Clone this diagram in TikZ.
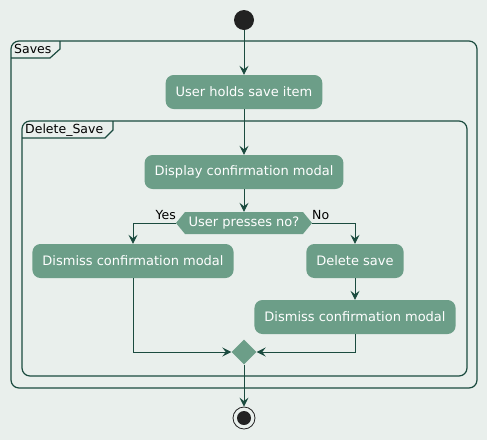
\documentclass[tikz,border=0pt]{standalone}
\usepackage{fontspec}
\setmainfont{DejaVu Sans}
\usetikzlibrary{arrows.meta,shapes.geometric}
\definecolor{bgc}{HTML}{E9EFEC}
\definecolor{nodefill}{HTML}{6C9E88}
\definecolor{linec}{HTML}{1B4B3F}
\definecolor{dotc}{HTML}{222222}
\tikzset{
  act/.style={fill=nodefill, rounded corners=8pt, text=white, font=\fontsize{13}{15}\selectfont,
    minimum height=34pt, inner xsep=10pt, inner ysep=0pt},
  conn/.style={draw=linec, line width=0.9pt, -{Stealth[length=9pt,width=9pt,inset=3.5pt]}},
  frameline/.style={draw=linec, line width=1.2pt},
  lbl/.style={font=\fontsize{12.5}{14}\selectfont, text=black, inner sep=0pt},
}
\begin{document}
\begin{tikzpicture}[x=1pt,y=-1pt]
\fill[bgc] (0,0) rectangle (487,440);
\useasboundingbox (0,0) rectangle (487,440);
% frames
\draw[frameline, rounded corners=8pt] (11,41) rectangle (477,388);
\draw[frameline] (11,58) -- (50,58) -- (60,49) -- (60,41);
\node[lbl, anchor=base west] (savesl) at (14,53) {Saves};
\draw[frameline, rounded corners=8pt] (22,121) rectangle (467,376);
\draw[frameline] (22,138) -- (105,138) -- (113,130) -- (113,121);
\node[lbl, anchor=base west] (dell) at (25,133) {Delete\_Save};
% start
\node[circle, fill=dotc, minimum size=20pt, inner sep=0] (start) at (244,20) {};
% nodes
\node[act] (hold) at (244,92) {User holds save item};
\node[act] (disp) at (244,172) {Display confirmation modal};
\fill[nodefill] (185,212) -- (303,212) -- (312,223) -- (303,234) -- (185,234) -- (176,223) -- cycle;
\node[inner sep=0, minimum width=136pt, minimum height=22pt, text=white, font=\fontsize{13}{15}\selectfont] (dec) at (244,223) {User presses no?};
\node[act] (dis1) at (133,261) {Dismiss confirmation modal};
\node[act] (dels) at (355,261) {Delete save};
\node[act] (dis2) at (355,317) {Dismiss confirmation modal};
\node[diamond, fill=nodefill, minimum size=25pt, inner sep=0] (merge) at (244,352) {};
\node[circle, draw=dotc, line width=0.8pt, fill=bgc, minimum size=22pt, inner sep=0] (stop) at (244,418) {};
\node[circle, fill=dotc, minimum size=14pt, inner sep=0] (stopin) at (stop.center) {};
% labels
\node[lbl, anchor=base east] (yes) at (176,219) {Yes};
\node[lbl, anchor=base west] (no) at (312,219) {No};
% connectors
\draw[conn] (start) -- (hold);
\draw[conn] (hold) -- (disp);
\draw[conn] (disp) -- (dec.north);
\draw[conn] (dec.west) -| (dis1.north);
\draw[conn] (dec.east) -| (dels.north);
\draw[conn] (dels) -- (dis2);
\draw[conn] (dis1.south) |- (merge.west);
\draw[conn] (dis2.south) |- (merge.east);
\draw[conn] (merge.south) -- (stop.north);
\end{tikzpicture}
\end{document}
